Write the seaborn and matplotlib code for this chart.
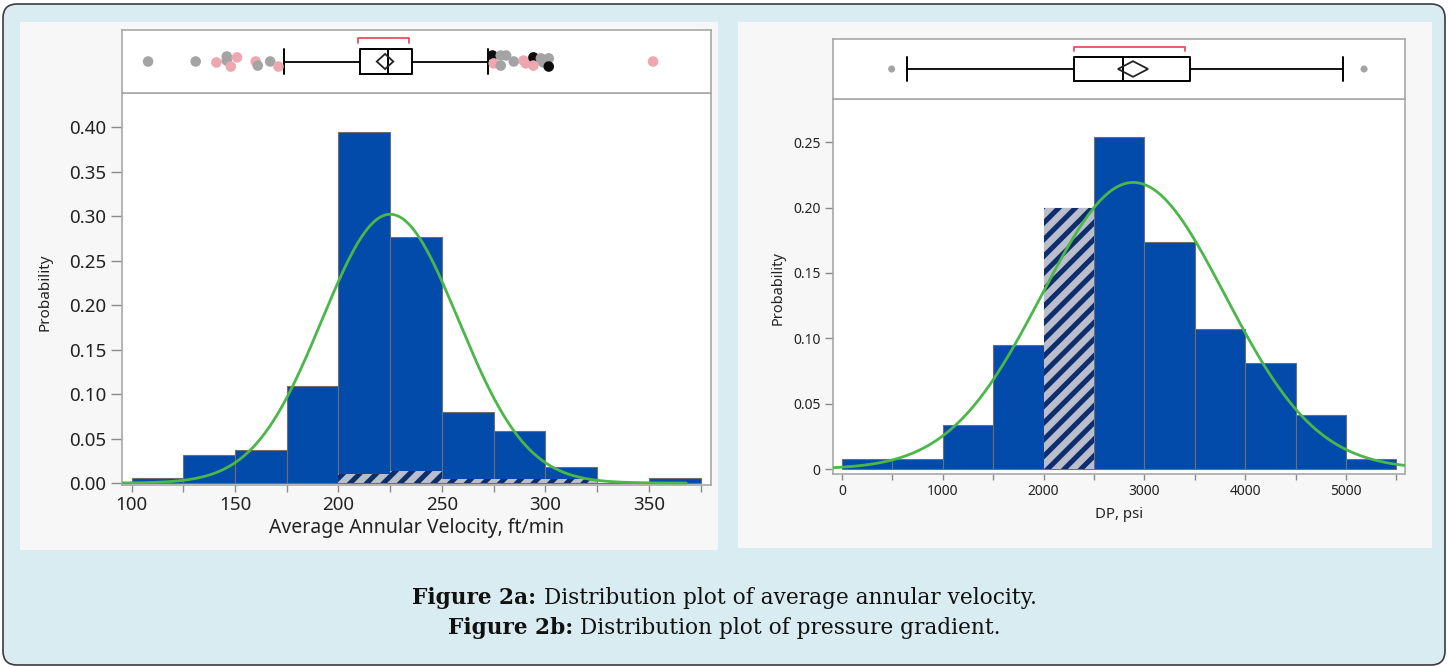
import numpy as np
import pandas as pd
import matplotlib
matplotlib.use("Agg")
import matplotlib.pyplot as plt
import seaborn as sns
from matplotlib.patches import Polygon, FancyBboxPatch, Rectangle

# ---------------- data: Figure 2a (average annular velocity) ----------------
vel_edges = [100, 125, 150, 175, 200, 225, 250, 275, 300, 325, 350, 375]
vel_prob = [0.006, 0.032, 0.037, 0.109, 0.395, 0.277, 0.080, 0.058, 0.018, 0.0, 0.006]
vel_sel_prob = [0.0, 0.0, 0.0, 0.0, 0.010, 0.014, 0.005, 0.005, 0.005, 0.0, 0.0]
vel_mu, vel_sigma = 225.0, 33.0
vel_box = dict(whislo=173.6, q1=210.4, med=224.0, q3=235.6, whishi=272.3)
vel_mean = 222.5
vel_mean_ci = (218.5, 226.5)
vel_short_half = (209.3, 234.0)
vel_out_x = [108, 131, 141, 146, 146, 148, 151, 160, 161, 167, 171,
             274.4, 278.4, 275, 278.4, 281, 284.7, 289.4, 290.5, 294.2, 294.2,
             297.8, 301.6, 299, 301.6, 352]
vel_out_jitter = [0, 0, -0.03, 0.16, 0.03, -0.16, 0.13, 0, -0.13, 0, -0.16,
                  0.19, 0.19, -0.06, -0.13, 0.19, 0, 0.03, -0.06, 0.13, -0.13,
                  0.1, 0.1, -0.03, -0.16, 0]
vel_out_group = ["gray", "gray", "pink", "gray", "gray", "pink", "pink", "pink", "gray", "gray", "pink",
                 "black", "gray", "pink", "gray", "gray", "gray", "pink", "pink", "black", "pink",
                 "gray", "gray", "gray", "black", "pink"]
vel_xticks = [100, 150, 200, 250, 300, 350]
vel_yticks = [0.0, 0.05, 0.10, 0.15, 0.20, 0.25, 0.30, 0.35, 0.40]
vel_ytick_labels = ["0.00", "0.05", "0.10", "0.15", "0.20", "0.25", "0.30", "0.35", "0.40"]

# ---------------- data: Figure 2b (DP, psi) ----------------
dp_edges = [0, 500, 1000, 1500, 2000, 2500, 3000, 3500, 4000, 4500, 5000, 5500]
dp_prob = [0.008, 0.008, 0.034, 0.095, 0.200, 0.254, 0.174, 0.107, 0.081, 0.041, 0.008]
dp_sel_prob = [0.0, 0.0, 0.0, 0.0, 0.200, 0.0, 0.0, 0.0, 0.0, 0.0, 0.0]
dp_mu, dp_sigma = 2890.0, 910.0
dp_box = dict(whislo=642, q1=2302, med=2785, q3=3452, whishi=4970)
dp_mean = 2887
dp_mean_ci = (2738, 3036)
dp_short_half = (2302, 3403)
dp_out_x = [493, 5179]
dp_out_jitter = [0, 0]
dp_xticks = [0, 1000, 2000, 3000, 4000, 5000]
dp_yticks = [0.0, 0.05, 0.10, 0.15, 0.20, 0.25]
dp_ytick_labels = ["0", "0.05", "0.10", "0.15", "0.20", "0.25"]

caption_1 = ("Figure 2a:", " Distribution plot of average annular velocity.")
caption_2 = ("Figure 2b:", " Distribution plot of pressure gradient.")

# ---------------- style ----------------
sns.set_theme(style="white")
plt.rcParams["font.family"] = ["Noto Sans", "DejaVu Sans"]
plt.rcParams["hatch.linewidth"] = 3.6

W, H = 1449, 668
BAR = "#034bab"
BAR_EDGE = "#6f6f6f"
HATCH_BG = "#b9bdcc"
HATCH_FG = "#0e2d6c"
CURVE = "#4bb748"
SPINE = "#a8a8a8"
TICK = "#8a8a8a"
TXT = "#222222"
PT_COL = {"gray": "#a4a4a4", "pink": "#eea7af", "black": "#0d0d0d"}

fig = plt.figure(figsize=(W / 100, H / 100), dpi=100, facecolor="white")

fig.patches.append(FancyBboxPatch((3, 3), W - 7, H - 7,
                                  boxstyle="round,pad=0,rounding_size=14",
                                  transform=None, fc="#d9ecf2", ec="#3c3c3c", lw=1.2, zorder=-5))


def frect(x0, y0, x1, y1):
    return [x0 / W, 1 - y1 / H, (x1 - x0) / W, (y1 - y0) / H]


for (x0, y0, x1, y1) in [(20, 22, 718, 550), (738, 22, 1432, 548)]:
    r = frect(x0, y0, x1, y1)
    fig.patches.append(Rectangle((r[0], r[1]), r[2], r[3], transform=fig.transFigure,
                                 fc="#f7f7f7", ec="none", zorder=-4))


def style_frame(ax):
    ax.set_facecolor("white")
    for s in ax.spines.values():
        s.set_visible(True)
        s.set_color(SPINE)
        s.set_linewidth(1.2)


def draw_hist(ax, edges, prob, sel_prob, mu, sigma, xlim, ylim, curve_rng):
    e = np.asarray(edges, float)
    centers = (e[:-1] + e[1:]) / 2
    df = pd.DataFrame({"x": centers, "p": prob, "sel": sel_prob})
    sns.histplot(data=df, x="x", weights="p", bins=list(edges), stat="count", ax=ax,
                 color=BAR, alpha=1.0, edgecolor=BAR_EDGE, linewidth=0.8)
    n_main = len(ax.patches)
    sns.histplot(data=df, x="x", weights="sel", bins=list(edges), stat="count", ax=ax,
                 color=HATCH_BG, alpha=1.0, edgecolor=HATCH_FG, linewidth=0)
    for p in ax.patches[n_main:]:
        p.set_hatch("//")
        p.set_facecolor(HATCH_BG)
        p.set_edgecolor(HATCH_FG)
        p.set_linewidth(0)
    width = e[1] - e[0]
    xs = np.linspace(curve_rng[0], curve_rng[1], 400)
    ys = width * np.exp(-0.5 * ((xs - mu) / sigma) ** 2) / (sigma * np.sqrt(2 * np.pi))
    sns.lineplot(x=xs, y=ys, ax=ax, color=CURVE, linewidth=2.0, zorder=4)
    ax.set_xlim(*xlim)
    ax.set_ylim(*ylim)
    style_frame(ax)


def draw_box(ax, stats, mean, ci, short_half, out_x, out_y, out_colors, pt_size, xlim, ylim,
             diamond_h, bracket_y, bracket_drop):
    st = dict(stats)
    st["fliers"] = []
    kw = dict(positions=[0], widths=[0.82], capwidths=[0.82], showfliers=False,
              boxprops=dict(color="black", lw=1.4),
              medianprops=dict(color="black", lw=1.4),
              whiskerprops=dict(color="black", lw=1.3),
              capprops=dict(color="black", lw=1.4), manage_ticks=False)
    try:
        ax.bxp([st], orientation="horizontal", **kw)
    except TypeError:
        ax.bxp([st], vert=False, **kw)
    ax.add_patch(Polygon([(ci[0], 0), (mean, diamond_h), (ci[1], 0), (mean, -diamond_h)],
                         closed=True, fill=False, ec="#222222", lw=1.3, zorder=5))
    ax.plot([short_half[0], short_half[0], short_half[1], short_half[1]],
            [bracket_y - bracket_drop, bracket_y, bracket_y, bracket_y - bracket_drop],
            color="#e8505e", lw=1.3)
    pdf = pd.DataFrame({"x": out_x, "y": out_y, "g": out_colors})
    sns.scatterplot(data=pdf, x="x", y="y", hue="g", palette=PT_COL, legend=False,
                    s=pt_size, edgecolor="none", ax=ax, zorder=6)
    ax.set_xlim(*xlim)
    ax.set_ylim(*ylim)
    ax.set_xticks([])
    ax.set_yticks([])
    ax.set_xlabel("")
    ax.set_ylabel("")
    style_frame(ax)


# ---------------- left panel ----------------
vel_xlim = (95.4, 380.0)
axL = fig.add_axes(frect(122, 93, 711, 485))
axLb = fig.add_axes(frect(122, 30, 711, 93))
draw_hist(axL, vel_edges, vel_prob, vel_sel_prob, vel_mu, vel_sigma,
          vel_xlim, (-0.0022, 0.4386), (96, 368))
axL.set_xticks(vel_xticks)
axL.set_xticks(vel_edges, minor=True)
axL.set_yticks(vel_yticks)
axL.set_yticklabels(vel_ytick_labels)
axL.tick_params(axis="y", which="both", left=True, length=8, width=1, color=TICK,
                labelsize=13.5, labelcolor=TXT, pad=3.5)
axL.tick_params(axis="x", which="both", bottom=True, length=5, width=1, color=TICK,
                labelsize=13.5, labelcolor=TXT, pad=3)
axL.set_xlabel("Average Annular Velocity, ft/min", fontsize=14, color=TXT)
axL.set_ylabel("Probability", fontsize=11, color=TXT)
axL.xaxis.set_label_coords(0.5, (485 - 528) / 392)
axL.xaxis.label.set_va("center")
axL.yaxis.set_label_coords((45.5 - 122) / 589, (485 - 292) / 392)
axL.yaxis.label.set_va("center")

draw_box(axLb, vel_box, vel_mean, vel_mean_ci, vel_short_half,
         vel_out_x, vel_out_jitter, vel_out_group, 58, vel_xlim, (-1, 1),
         0.24, 0.75, 0.15)

# ---------------- right panel ----------------
dp_xlim = (-89, 5585)
axR = fig.add_axes(frect(833, 99, 1405, 474))
axRb = fig.add_axes(frect(833, 39, 1405, 99))
draw_hist(axR, dp_edges, dp_prob, dp_sel_prob, dp_mu, dp_sigma,
          dp_xlim, (-0.0038, 0.283), (-89, 5585))
axR.set_xticks(dp_xticks)
axR.set_xticks(dp_edges, minor=True)
axR.set_yticks(dp_yticks)
axR.set_yticklabels(dp_ytick_labels)
axR.tick_params(axis="y", which="both", left=True, length=6, width=1, color=TICK,
                labelsize=10, labelcolor=TXT, pad=3)
axR.tick_params(axis="x", which="both", bottom=True, length=4, width=1, color=TICK,
                labelsize=10, labelcolor=TXT, pad=3)
axR.set_xlabel("DP, psi", fontsize=10.8, color=TXT)
axR.set_ylabel("Probability", fontsize=10.5, color=TXT)
axR.xaxis.set_label_coords(0.5, (474 - 514) / 375)
axR.xaxis.label.set_va("center")
axR.yaxis.set_label_coords((778 - 833) / 572, (474 - 288) / 375)
axR.yaxis.label.set_va("center")

draw_box(axRb, dp_box, dp_mean, dp_mean_ci, dp_short_half,
         dp_out_x, dp_out_jitter, ["gray"] * len(dp_out_x), 26, dp_xlim, (-1, 1),
         0.26, 0.73, 0.13)

# ---------------- caption ----------------
renderer = fig.canvas.get_renderer()


def caption(ypix, parts):
    y = 1 - ypix / H
    t1 = fig.text(0, y, parts[0], fontsize=15.6, fontweight="bold", family="DejaVu Serif",
                  color="#111111", va="center", ha="left")
    t2 = fig.text(0, y, parts[1], fontsize=15.6, family="DejaVu Serif",
                  color="#111111", va="center", ha="left")
    w1 = t1.get_window_extent(renderer).width
    w2 = t2.get_window_extent(renderer).width
    x0 = (W - (w1 + w2)) / 2
    t1.set_x(x0 / W)
    t2.set_x((x0 + w1) / W)


caption(598, caption_1)
caption(628, caption_2)

fig.savefig("out.png", dpi=100, facecolor=fig.get_facecolor())
